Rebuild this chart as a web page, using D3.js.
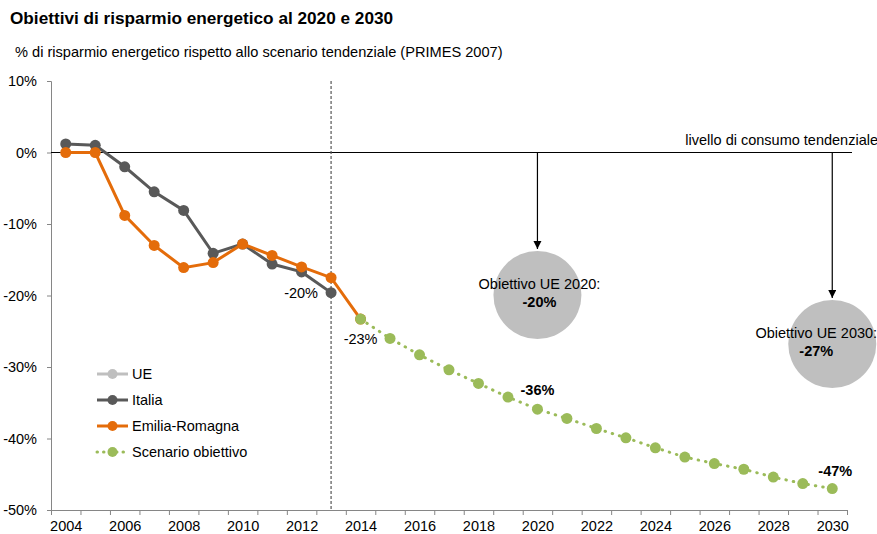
<!DOCTYPE html>
<html>
<head>
<meta charset="utf-8">
<script src="https://cdn.jsdelivr.net/npm/d3@7"></script>
<style>
  body { margin: 0; background: #fff; }
  svg { font-family: "Liberation Sans", Arial, sans-serif; }
</style>
</head>
<body>
<div id="chart"></div>
<script>
// data (% saving vs PRIMES 2007)
const years = d3.range(2004, 2031);
const yearLabels = d3.range(2004, 2031, 2);
const yTicks = [10, 0, -10, -20, -30, -40, -50];

const ueYears = [];
const ueValues = [];

const italiaYears = [2004, 2005, 2006, 2007, 2008, 2009, 2010, 2011, 2012, 2013];
const italiaValues = [1.2, 1.0, -2.0, -5.5, -8.1, -14.1, -12.8, -15.6, -16.7, -19.6];

const erYears = [2004, 2005, 2006, 2007, 2008, 2009, 2010, 2011, 2012, 2013, 2014];
const erValues = [0, 0, -8.8, -13.0, -16.1, -15.4, -12.8, -14.4, -16.0, -17.5, -23.3];

const scenYears = d3.range(2014, 2031);
const scenValues = [-23.3, -26.0, -28.3, -30.4, -32.3, -34.2, -35.9, -37.2, -38.6, -39.9,
                    -41.3, -42.6, -43.5, -44.3, -45.4, -46.3, -47.0];

const targets = [
  {year: 2020, label: "Obiettivo UE 2020:", value: "-20%"},
  {year: 2030, label: "Obiettivo UE 2030:", value: "-27%"}
];

const width = 877, height = 534;
const fs = "14.5px";
const svg = d3.select("#chart").append("svg")
  .attr("width", width).attr("height", height);

const x = d3.scaleLinear().domain([2003.5, 2030.5]).range([51, 847]);
const y = d3.scaleLinear().domain([-50, 10]).range([510, 81]);

// title
svg.append("text").attr("x", 10).attr("y", 24)
  .style("font-size", "17.2px").style("font-weight", "bold")
  .text("Obiettivi di risparmio energetico al 2020 e 2030");
svg.append("text").attr("x", 15).attr("y", 57)
  .style("font-size", "14.6px")
  .text("% di risparmio energetico rispetto allo scenario tendenziale (PRIMES 2007)");

// y axis
const yAxis = svg.append("g").attr("transform", "translate(51,0)")
  .call(d3.axisLeft(y).tickValues(yTicks).tickSize(4).tickFormat(d => d + "%"));
yAxis.select(".domain").attr("stroke", "#868686");
yAxis.selectAll(".tick line").attr("stroke", "#868686");
yAxis.selectAll(".tick text").attr("x", -14).style("font-size", fs)
  .style("font-family", "Liberation Sans, Arial, sans-serif").attr("fill", "#000");

// x axis: ticks between years, labels every two years
const xAxis = svg.append("g").attr("transform", "translate(0,510)")
  .call(d3.axisBottom(x).tickValues(d3.range(2003.5, 2031, 1)).tickSize(5).tickFormat(""));
xAxis.select(".domain").attr("stroke", "#868686");
xAxis.selectAll(".tick line").attr("stroke", "#868686");
const xLab = svg.append("g").attr("transform", "translate(0,510)")
  .call(d3.axisBottom(x).tickValues(yearLabels).tickSize(0).tickPadding(11).tickFormat(d3.format("d")));
xLab.select(".domain").remove();
xLab.selectAll("text").style("font-size", fs)
  .style("font-family", "Liberation Sans, Arial, sans-serif").attr("fill", "#000");

// zero line (consumo tendenziale)
svg.append("line").attr("x1", 51).attr("x2", 852)
  .attr("y1", y(0)).attr("y2", y(0)).attr("stroke", "#000").attr("stroke-width", 1.2);
svg.append("text").attr("x", 878).attr("y", 145).attr("text-anchor", "end")
  .style("font-size", fs).text("livello di consumo tendenziale");

// dashed separator at 2013
svg.append("line").attr("x1", x(2013)).attr("x2", x(2013))
  .attr("y1", y(10)).attr("y2", y(-50))
  .attr("stroke", "#555").attr("stroke-width", 1.2).attr("stroke-dasharray", "3,2");

// targets: arrows + bubbles
svg.append("defs").append("marker").attr("id", "arr")
  .attr("viewBox", "0 0 10 10").attr("refX", 10).attr("refY", 5)
  .attr("markerWidth", 7).attr("markerHeight", 7).attr("orient", "auto")
  .append("path").attr("d", "M0,0L10,5L0,10z").attr("fill", "#000");

const bubbleY = [295, 344];
targets.forEach((t, i) => {
  const cx = x(t.year);
  svg.append("line").attr("x1", cx).attr("x2", cx)
    .attr("y1", y(0)).attr("y2", bubbleY[i] - 46)
    .attr("stroke", "#000").attr("stroke-width", 1.2).attr("marker-end", "url(#arr)");
  svg.append("circle").attr("cx", cx).attr("cy", bubbleY[i]).attr("r", 44).attr("fill", "#bfbfbf");
  const tx = i === 0 ? cx + 2 : cx - 16;
  svg.append("text").attr("x", tx).attr("y", bubbleY[i] - 6).attr("text-anchor", "middle")
    .style("font-size", fs).text(t.label);
  svg.append("text").attr("x", tx).attr("y", bubbleY[i] + 12).attr("text-anchor", "middle")
    .style("font-size", fs).style("font-weight", "bold").text(t.value);
});

// series
const line = d3.line().x(d => x(d[0])).y(d => y(d[1]));
function drawSeries(yrs, vals, color, dash) {
  const pts = yrs.map((yr, i) => [yr, vals[i]]);
  svg.append("path").datum(pts).attr("d", line).attr("fill", "none")
    .attr("stroke", color).attr("stroke-width", 3)
    .attr("stroke-dasharray", dash || null).attr("stroke-linecap", dash ? "round" : "butt");
  svg.append("g").selectAll("circle").data(pts).join("circle")
    .attr("cx", d => x(d[0])).attr("cy", d => y(d[1])).attr("r", 5.5).attr("fill", color);
}
drawSeries(ueYears, ueValues, "#bfbfbf");
drawSeries(italiaYears, italiaValues, "#595959");
drawSeries(erYears, erValues, "#e46c0a");
drawSeries(scenYears, scenValues, "#9bbb59", "0.5,7");

// point labels
const pointLabels = [
  {x: x(2013) - 30, y: y(italiaValues[9]) + 5, t: "-20%", b: false},
  {x: x(2014) - 0, y: y(scenValues[0]) + 25, t: "-23%", b: false},
  {x: x(2020), y: y(scenValues[6]) - 14, t: "-36%", b: true},
  {x: x(2030) + 3, y: y(scenValues[16]) - 13, t: "-47%", b: true}
];
svg.append("g").selectAll("text").data(pointLabels).join("text")
  .attr("x", d => d.x).attr("y", d => d.y).attr("text-anchor", "middle")
  .style("font-size", fs).style("font-weight", d => d.b ? "bold" : "normal")
  .text(d => d.t);

// legend
const legend = [
  {name: "UE", color: "#bfbfbf", dash: null},
  {name: "Italia", color: "#595959", dash: null},
  {name: "Emilia-Romagna", color: "#e46c0a", dash: null},
  {name: "Scenario obiettivo", color: "#9bbb59", dash: "0.5,6"}
];
const lg = svg.append("g").selectAll("g").data(legend).join("g")
  .attr("transform", (d, i) => "translate(97," + (374 + i * 26) + ")");
lg.append("line").attr("x1", 0).attr("x2", 31).attr("stroke", d => d.color)
  .attr("stroke-width", 3).attr("stroke-dasharray", d => d.dash)
  .attr("stroke-linecap", d => d.dash ? "round" : "butt");
lg.append("circle").attr("cx", 15.5).attr("r", 5).attr("fill", d => d.color);
lg.append("text").attr("x", 35).attr("y", 5).style("font-size", fs).text(d => d.name);
</script>
</body>
</html>
